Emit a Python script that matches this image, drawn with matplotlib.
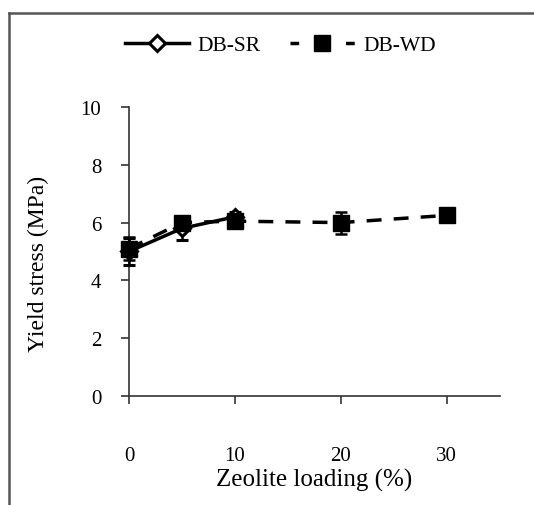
import numpy as np
import matplotlib
matplotlib.use("Agg")
import matplotlib.pyplot as plt
from matplotlib.lines import Line2D

plt.rcParams['font.family'] = ['Liberation Serif', 'DejaVu Serif']

# datos
x_sr = [0, 5, 10]
y_sr = [5.0, 5.8, 6.2]
e_sr = [0.45, 0.4, 0.15]

x_wd = [0, 5, 10, 20, 30]
y_wd = [5.1, 6.0, 6.05, 6.0, 6.25]
e_wd = [0.4, 0.2, 0.2, 0.38, 0.2]

xticks = [0, 10, 20, 30]
yticks = [0, 2, 4, 6, 8, 10]

fig = plt.figure(figsize=(5.34, 5.06), dpi=100)
ax = fig.add_axes([0.2416, 0.2154, 0.6944, 0.5712])

dash = (0, (4.3, 3.5))
# linea discontinua debajo, linea continua encima, cuadrados arriba de todo
ax.plot(x_wd, y_wd, color='black', lw=2.5, ls=dash, zorder=2, clip_on=False)
sr = ax.errorbar(x_sr, y_sr, yerr=e_sr, color='black', lw=2.5, marker='D', ms=8,
                 mfc='white', mec='black', mew=2.2, capsize=4.5, capthick=1.8,
                 elinewidth=1.8, zorder=3)
wd = ax.errorbar(x_wd, y_wd, yerr=e_wd, color='black', ls='none',
                 marker='s', ms=11, mfc='black', mec='black', capsize=4.5,
                 capthick=1.8, elinewidth=1.8, zorder=4)
for cont in (sr, wd):
    for art in cont.get_children():
        art.set_clip_on(False)

ax.set_xlim(0, 35)
ax.set_ylim(0, 10)
ax.set_xticks(xticks)
ax.set_yticks(yticks)
ax.spines['top'].set_visible(False)
ax.spines['right'].set_visible(False)
for s in ['left', 'bottom']:
    ax.spines[s].set_linewidth(1.2)
    ax.spines[s].set_color('#333333')
ax.tick_params(axis='y', direction='out', length=6, width=1.2, pad=14, labelsize=15, color='#333333')
ax.tick_params(axis='x', direction='out', length=6, width=1.2, pad=30, labelsize=15, color='#333333')

ax.set_xlabel('Zeolite loading (%)', fontsize=18)
ax.set_ylabel('Yield stress (MPa)', fontsize=17)
ax.xaxis.set_label_coords(0.50, -0.25)
ax.yaxis.set_label_coords(-0.216, 0.46)

h_sr = Line2D([], [], color='black', lw=2.5, marker='D', ms=8, mfc='white', mec='black', mew=2.2)
h_wd = Line2D([], [], color='black', lw=2.5, ls=(0, (2.5, 5.5)), marker='s', ms=11, mfc='black', mec='black')
ax.legend([h_sr, h_wd], ['DB-SR', 'DB-WD'], loc='center left', bbox_to_anchor=(-0.064, 1.213),
          ncol=2, frameon=False, fontsize=15.5, handlelength=3.0, columnspacing=1.35,
          handletextpad=0.4, numpoints=1)

# marco de la imagen original
fig.add_artist(Line2D([9 / 534, 1], [1 - 14 / 506, 1 - 14 / 506], color='#555555', lw=1.8,
                      transform=fig.transFigure))
fig.add_artist(Line2D([9 / 534, 9 / 534], [0, 1 - 14 / 506], color='#555555', lw=1.8,
                      transform=fig.transFigure))

fig.savefig('out.png', dpi=100)
